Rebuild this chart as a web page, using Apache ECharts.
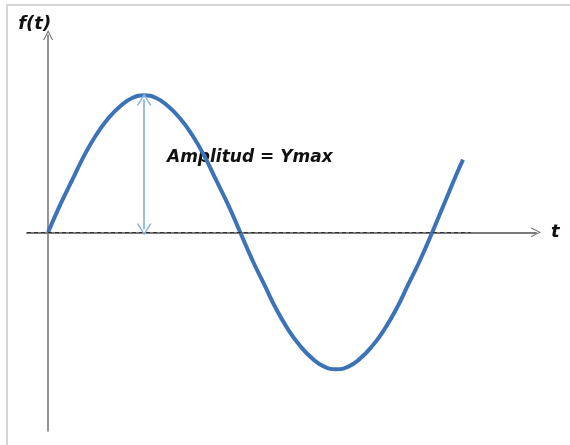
<!DOCTYPE html>
<html>
<head>
<meta charset="utf-8">
<script src="https://cdn.jsdelivr.net/npm/echarts@6/dist/echarts.min.js"></script>
<style>
  html, body { margin: 0; padding: 0; background: #fff; }
  #show { width: 570px; height: 445px; }
</style>
</head>
<body>
<div id="show"></div>
<script>
var myChart = echarts.init(document.getElementById("show"));

// t (one unit = a quarter period) and f(t)
var tValues = [0, 0.125, 0.25, 0.375, 0.5, 0.625, 0.75, 0.875, 1,
               1.125, 1.25, 1.375, 1.5, 1.625, 1.75, 1.875, 2,
               2.125, 2.25, 2.375, 2.5, 2.625, 2.75, 2.875, 3,
               3.125, 3.25, 3.375, 3.5, 3.625, 3.75, 3.875, 4,
               4.125, 4.25, 4.32];
var fValues = [0, 0.2, 0.38, 0.56, 0.71, 0.83, 0.92, 0.98, 1,
               0.98, 0.92, 0.83, 0.71, 0.56, 0.38, 0.2, 0,
               -0.2, -0.38, -0.56, -0.71, -0.83, -0.92, -0.98, -1,
               -0.98, -0.92, -0.83, -0.71, -0.56, -0.38, -0.2, 0,
               0.21, 0.42, 0.53];

var axisNames = ["t", "f(t)"];
var amplitudeLabel = "Amplitud = Ymax";
var amplitudeAt = 1;      // t where the amplitude arrow stands
var amplitudeValue = 1;   // Ymax

var curve = tValues.map(function (t, i) { return [t, fValues[i]]; });

// open chevron used as arrow head
var chevron = 'path://M0,20 L10,0 L20,20 L17.6,20 L10,4.6 L2.4,20 Z';

var labelFont = {
    fontFamily: 'DejaVu Sans',
    fontWeight: 'bold',
    fontStyle: 'italic',
    color: '#111'
};

myChart.setOption(option = {
    animation: false,
    grid: {
        left: 27,
        right: 34,
        top: 35,
        bottom: 14
    },
    xAxis: {
        type: 'value',
        min: -0.22,
        max: 5.08,
        name: axisNames[0],
        nameLocation: 'end',
        nameGap: 15,
        nameTextStyle: Object.assign({ fontSize: 18, padding: [5, 0, 0, 0] }, labelFont),
        axisLine: {
            show: true,
            symbol: ['none', chevron],
            symbolSize: [15, 10],
            lineStyle: { color: '#7a7a7a', width: 2 }
        },
        axisTick: { show: false },
        axisLabel: { show: false },
        splitLine: { show: false }
    },
    yAxis: {
        type: 'value',
        min: -1.45,
        max: 1.44,
        name: axisNames[1],
        nameLocation: 'end',
        nameGap: 2,
        nameTextStyle: Object.assign({ fontSize: 18, align: 'right', padding: [0, -3, 0, 0] }, labelFont),
        axisLine: {
            show: true,
            symbol: ['none', chevron],
            symbolSize: [14, 10],
            lineStyle: { color: '#707070', width: 1.5 }
        },
        axisTick: { show: false },
        axisLabel: { show: false },
        splitLine: { show: false }
    },
    graphic: [
        {
            type: 'polyline',
            shape: { points: [[7, 450], [7, 5], [570, 5]] },
            style: { fill: 'none', stroke: '#c8c8c8', lineWidth: 1.5 },
            silent: true
        },
        {
            type: 'text',
            left: 167,
            top: 149,
            style: {
                text: amplitudeLabel,
                font: 'italic bold 17px "DejaVu Sans"',
                fill: '#111'
            }
        }
    ],
    series: [
        {
            type: 'line',
            data: curve,
            smooth: true,
            showSymbol: false,
            lineStyle: { color: '#3c72b6', width: 4 },
            z: 3,
            markLine: {
                silent: true,
                symbol: 'none',
                label: { show: false },
                data: [
                    [
                        { coord: [-0.22, 0], lineStyle: { color: '#333', width: 1, type: [4, 3] } },
                        { coord: [4.4, 0] }
                    ]
                ]
            }
        },
        {
            type: 'line',
            data: [],
            markLine: {
                silent: true,
                symbol: [chevron, chevron],
                symbolSize: [15, 12],
                label: { show: false },
                lineStyle: { color: '#8fb6e0', width: 1.8, type: 'solid' },
                data: [
                    [
                        { coord: [amplitudeAt, 0.02] },
                        { coord: [amplitudeAt, amplitudeValue - 0.03] }
                    ]
                ]
            }
        }
    ]
});
</script>
</body>
</html>
